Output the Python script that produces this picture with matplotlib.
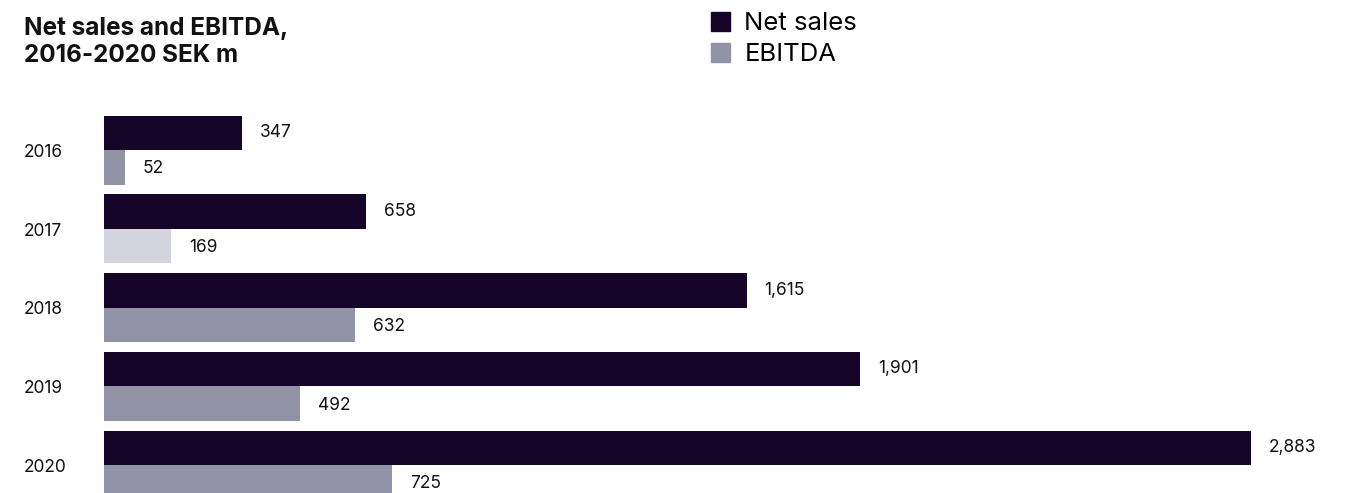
import matplotlib
matplotlib.use('Agg')
import matplotlib.pyplot as plt
import matplotlib.transforms as mtransforms
from matplotlib.patches import Patch
import numpy as np

plt.rcParams['font.family'] = ['Inter', 'DejaVu Sans']

years = ['2016', '2017', '2018', '2019', '2020']
net_sales = [347, 658, 1615, 1901, 2883]
ebitda = [52, 169, 632, 492, 725]

dark = '#150528'
grey = '#9294a6'
light = '#d3d3dd'
ebitda_colors = [grey, light, grey, grey, grey]

W, H = 1358, 493
fig = plt.figure(figsize=(W / 100, H / 100), dpi=100)

# axes placed in pixels: bars start at x=104, 2883 ends at x~1251
left_px, top_px = 104, 100
ax = fig.add_axes([left_px / W, 0, 1 - left_px / W, (H - top_px) / H])
px_per_unit = (1251 - 104) / 2883
ax.set_xlim(0, (W - left_px) / px_per_unit)
# group spacing ~78.75 px, first group centre at y=150
sp = 78.75
ax.set_ylim((H - 150) / sp, (top_px - 150) / sp)
ax.axis('off')

y = np.arange(len(years))
h = 34.5 / sp
ax.barh(y - h / 2, net_sales, height=h, color=dark)
ax.barh(y + h / 2, ebitda, height=h, color=ebitda_colors)

off = 18 / px_per_unit
for i in range(len(years)):
    ax.text(net_sales[i] + off, y[i] - h / 2, f'{net_sales[i]:,}', va='center', ha='left',
            fontsize=12.5, color='#111111')
    ax.text(ebitda[i] + off, y[i] + h / 2 + 0.02, f'{ebitda[i]:,}', va='center', ha='left',
            fontsize=12.5, color='#111111')

trans = mtransforms.blended_transform_factory(fig.transFigure, ax.transData)
for i, yr in enumerate(years):
    fig.text(24 / W, y[i] + 0.03, yr, transform=trans, va='center', ha='left',
             fontsize=12.5, color='#111111')

fig.text(24 / W, 1 - 17 / H, 'Net sales and EBITDA,\n2016-2020 SEK m', fontsize=17.5,
         fontweight='bold', va='top', ha='left', color='#111111', linespacing=1.25)

handles = [Patch(color=dark), Patch(color=grey)]
fig.legend(handles, ['Net sales', 'EBITDA'], loc='upper left',
           bbox_to_anchor=(711 / W, 1 - 12 / H), frameon=False, fontsize=18.5,
           handlelength=0.75, handleheight=0.75, labelspacing=0.3,
           handletextpad=0.55, borderpad=0, borderaxespad=0)

fig.savefig('out.png', dpi=100)
